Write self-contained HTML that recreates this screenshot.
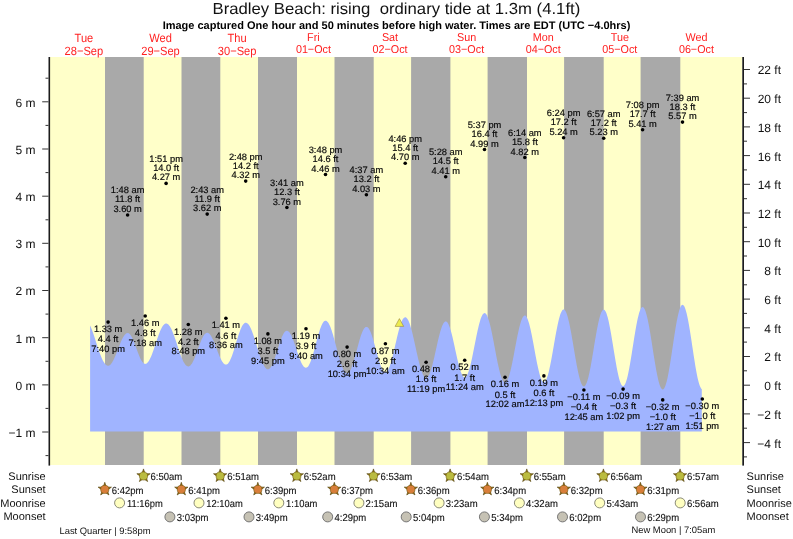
<!DOCTYPE html>
<html><head><meta charset="utf-8"><title>Bradley Beach tide times</title>
<style>html,body{margin:0;padding:0;background:#fff}svg{display:block}text{text-rendering:geometricPrecision}</style></head>
<body>
<svg width="793" height="539" viewBox="0 0 793 539" font-family="'Liberation Sans', Arial, Helvetica, sans-serif">
<rect width="793" height="539" fill="#fff"/>
<rect x="50" y="57" width="692" height="408" fill="#ffffc9"/>
<rect x="105.0" y="57" width="38.7" height="408" fill="#a9a9a9"/>
<rect x="181.5" y="57" width="38.8" height="408" fill="#a9a9a9"/>
<rect x="258.0" y="57" width="39.0" height="408" fill="#a9a9a9"/>
<rect x="334.5" y="57" width="39.2" height="408" fill="#a9a9a9"/>
<rect x="411.1" y="57" width="39.3" height="408" fill="#a9a9a9"/>
<rect x="487.6" y="57" width="39.4" height="408" fill="#a9a9a9"/>
<rect x="564.1" y="57" width="39.6" height="408" fill="#a9a9a9"/>
<rect x="640.6" y="57" width="39.7" height="408" fill="#a9a9a9"/>
<path d="M90.1,431.4L90.1,325.4L90.6,326.6L91.1,327.8L91.6,329.0L92.1,330.3L92.6,331.7L93.1,333.1L93.6,334.6L94.1,336.1L94.6,337.6L95.1,339.1L95.6,340.7L96.1,342.2L96.6,343.8L97.1,345.3L97.6,346.8L98.1,348.3L98.6,349.8L99.1,351.2L99.6,352.7L100.1,354.0L100.6,355.3L101.1,356.6L101.6,357.8L102.1,358.9L102.6,359.9L103.1,360.9L103.6,361.8L104.1,362.6L104.6,363.3L105.1,364.0L105.6,364.5L106.1,364.9L106.6,365.3L107.1,365.5L107.6,365.7L108.1,365.7L108.6,365.7L109.1,365.5L109.6,365.2L110.1,364.9L110.6,364.4L111.1,363.8L111.6,363.2L112.1,362.4L112.6,361.6L113.1,360.7L113.6,359.7L114.1,358.7L114.6,357.6L115.1,356.4L115.6,355.2L116.1,354.0L116.6,352.7L117.1,351.4L117.6,350.1L118.1,348.8L118.6,347.5L119.1,346.2L119.6,344.9L120.1,343.7L120.6,342.5L121.1,341.3L121.6,340.2L122.1,339.1L122.6,338.2L123.1,337.2L123.6,336.4L124.1,335.7L124.6,335.0L125.1,334.4L125.6,334.0L126.1,333.6L126.6,333.3L127.1,333.2L127.6,333.1L128.1,333.1L128.6,333.3L129.1,333.6L129.6,334.0L130.1,334.6L130.6,335.2L131.1,335.9L131.6,336.8L132.1,337.7L132.6,338.8L133.1,339.9L133.6,341.0L134.1,342.3L134.6,343.5L135.1,344.9L135.6,346.2L136.1,347.6L136.6,349.0L137.1,350.3L137.6,351.7L138.1,353.0L138.6,354.3L139.1,355.6L139.6,356.8L140.1,357.9L140.6,358.9L141.1,359.9L141.6,360.8L142.1,361.6L142.6,362.2L143.1,362.8L143.6,363.2L144.1,363.6L144.6,363.8L145.1,363.9L145.6,363.8L146.1,363.7L146.6,363.4L147.1,363.0L147.6,362.6L148.1,362.0L148.6,361.3L149.1,360.5L149.6,359.6L150.1,358.6L150.6,357.6L151.1,356.4L151.6,355.2L152.1,353.9L152.6,352.6L153.1,351.2L153.6,349.8L154.1,348.3L154.6,346.8L155.1,345.3L155.6,343.8L156.1,342.3L156.6,340.8L157.1,339.3L157.6,337.8L158.1,336.4L158.6,335.0L159.1,333.7L159.6,332.4L160.1,331.1L160.6,330.0L161.1,328.9L161.6,327.9L162.1,327.0L162.6,326.2L163.1,325.5L163.6,324.9L164.1,324.4L164.6,324.0L165.1,323.7L165.6,323.5L166.1,323.5L166.6,323.5L167.1,323.7L167.6,323.9L168.1,324.3L168.6,324.8L169.1,325.4L169.6,326.0L170.1,326.8L170.6,327.7L171.1,328.6L171.6,329.6L172.1,330.8L172.6,331.9L173.1,333.2L173.6,334.5L174.1,335.8L174.6,337.2L175.1,338.7L175.6,340.1L176.1,341.6L176.6,343.1L177.1,344.7L177.6,346.2L178.1,347.7L178.6,349.2L179.1,350.7L179.6,352.1L180.1,353.5L180.6,354.9L181.1,356.2L181.6,357.5L182.1,358.7L182.6,359.8L183.1,360.9L183.6,361.9L184.1,362.8L184.6,363.6L185.1,364.3L185.6,364.9L186.1,365.4L186.6,365.8L187.1,366.1L187.6,366.3L188.1,366.4L188.6,366.4L189.1,366.3L189.6,366.0L190.1,365.7L190.6,365.2L191.1,364.6L191.6,364.0L192.1,363.2L192.6,362.3L193.1,361.3L193.6,360.3L194.1,359.2L194.6,358.0L195.1,356.7L195.6,355.5L196.1,354.1L196.6,352.8L197.1,351.4L197.6,350.0L198.1,348.6L198.6,347.2L199.1,345.8L199.6,344.5L200.1,343.2L200.6,341.9L201.1,340.7L201.6,339.5L202.1,338.4L202.6,337.4L203.1,336.5L203.6,335.7L204.1,335.0L204.6,334.3L205.1,333.8L205.6,333.4L206.1,333.1L206.6,332.9L207.1,332.8L207.6,332.8L208.1,333.0L208.6,333.3L209.1,333.6L209.6,334.1L210.1,334.7L210.6,335.3L211.1,336.1L211.6,337.0L212.1,337.9L212.6,338.9L213.1,340.0L213.6,341.1L214.1,342.3L214.6,343.6L215.1,344.8L215.6,346.2L216.1,347.5L216.6,348.8L217.1,350.1L217.6,351.4L218.1,352.7L218.6,354.0L219.1,355.2L219.6,356.4L220.1,357.6L220.6,358.6L221.1,359.6L221.6,360.6L222.1,361.4L222.6,362.1L223.1,362.8L223.6,363.4L224.1,363.8L224.6,364.2L225.1,364.4L225.6,364.6L226.1,364.6L226.6,364.5L227.1,364.2L227.6,363.9L228.1,363.4L228.6,362.8L229.1,362.0L229.6,361.2L230.1,360.2L230.6,359.1L231.1,358.0L231.6,356.7L232.1,355.4L232.6,354.0L233.1,352.5L233.6,350.9L234.1,349.4L234.6,347.8L235.1,346.1L235.6,344.5L236.1,342.8L236.6,341.1L237.1,339.5L237.6,337.9L238.1,336.3L238.6,334.8L239.1,333.3L239.6,331.9L240.1,330.6L240.6,329.3L241.1,328.2L241.6,327.1L242.1,326.1L242.6,325.3L243.1,324.5L243.6,323.9L244.1,323.4L244.6,323.1L245.1,322.8L245.6,322.7L246.1,322.8L246.6,322.9L247.1,323.2L247.6,323.5L248.1,324.0L248.6,324.6L249.1,325.3L249.6,326.1L250.1,327.0L250.6,328.0L251.1,329.1L251.6,330.3L252.1,331.6L252.6,332.9L253.1,334.3L253.6,335.8L254.1,337.3L254.6,338.8L255.1,340.4L255.6,342.0L256.1,343.6L256.6,345.3L257.1,346.9L257.6,348.6L258.1,350.2L258.6,351.8L259.1,353.4L259.6,354.9L260.1,356.4L260.6,357.9L261.1,359.3L261.6,360.6L262.1,361.9L262.6,363.0L263.1,364.1L263.6,365.1L264.1,366.0L264.6,366.8L265.1,367.5L265.6,368.1L266.1,368.6L266.6,368.9L267.1,369.2L267.6,369.3L268.1,369.3L268.6,369.2L269.1,369.0L269.6,368.6L270.1,368.1L270.6,367.4L271.1,366.7L271.6,365.8L272.1,364.9L272.6,363.8L273.1,362.6L273.6,361.4L274.1,360.0L274.6,358.7L275.1,357.2L275.6,355.7L276.1,354.1L276.6,352.6L277.1,351.0L277.6,349.4L278.1,347.8L278.6,346.2L279.1,344.7L279.6,343.1L280.1,341.7L280.6,340.3L281.1,338.9L281.6,337.7L282.1,336.5L282.6,335.4L283.1,334.4L283.6,333.5L284.1,332.8L284.6,332.1L285.1,331.6L285.6,331.2L286.1,330.9L286.6,330.8L287.1,330.8L287.6,330.9L288.1,331.2L288.6,331.5L289.1,332.0L289.6,332.6L290.1,333.4L290.6,334.2L291.1,335.1L291.6,336.1L292.1,337.2L292.6,338.4L293.1,339.7L293.6,341.0L294.1,342.4L294.6,343.9L295.1,345.3L295.6,346.8L296.1,348.3L296.6,349.9L297.1,351.4L297.6,352.9L298.1,354.4L298.6,355.8L299.1,357.2L299.6,358.5L300.1,359.8L300.6,361.0L301.1,362.2L301.6,363.2L302.1,364.2L302.6,365.0L303.1,365.7L303.6,366.4L304.1,366.9L304.6,367.3L305.1,367.6L305.6,367.7L306.1,367.7L306.6,367.6L307.1,367.3L307.6,366.9L308.1,366.4L308.6,365.7L309.1,364.8L309.6,363.8L310.1,362.7L310.6,361.5L311.1,360.2L311.6,358.7L312.1,357.2L312.6,355.6L313.1,353.9L313.6,352.2L314.1,350.4L314.6,348.5L315.1,346.6L315.6,344.8L316.1,342.9L316.6,341.0L317.1,339.1L317.6,337.3L318.1,335.5L318.6,333.8L319.1,332.2L319.6,330.6L320.1,329.1L320.6,327.7L321.1,326.4L321.6,325.2L322.1,324.2L322.6,323.3L323.1,322.5L323.6,321.8L324.1,321.3L324.6,321.0L325.1,320.8L325.6,320.7L326.1,320.8L326.6,321.0L327.1,321.4L327.6,321.9L328.1,322.5L328.6,323.3L329.1,324.2L329.6,325.2L330.1,326.3L330.6,327.6L331.1,328.9L331.6,330.3L332.1,331.9L332.6,333.5L333.1,335.1L333.6,336.9L334.1,338.7L334.6,340.5L335.1,342.4L335.6,344.3L336.1,346.2L336.6,348.1L337.1,350.0L337.6,351.9L338.1,353.7L338.6,355.6L339.1,357.4L339.6,359.1L340.1,360.8L340.6,362.4L341.1,363.9L341.6,365.3L342.1,366.6L342.6,367.9L343.1,369.0L343.6,370.0L344.1,370.8L344.6,371.6L345.1,372.2L345.6,372.7L346.1,373.1L346.6,373.3L347.1,373.3L347.6,373.3L348.1,373.1L348.6,372.7L349.1,372.2L349.6,371.5L350.1,370.7L350.6,369.7L351.1,368.7L351.6,367.5L352.1,366.1L352.6,364.7L353.1,363.2L353.6,361.6L354.1,359.9L354.6,358.2L355.1,356.4L355.6,354.6L356.1,352.7L356.6,350.8L357.1,348.9L357.6,347.0L358.1,345.2L358.6,343.4L359.1,341.6L359.6,339.8L360.1,338.2L360.6,336.6L361.1,335.1L361.6,333.7L362.1,332.4L362.6,331.3L363.1,330.2L363.6,329.3L364.1,328.6L364.6,327.9L365.1,327.5L365.6,327.1L366.1,326.9L366.6,326.9L367.1,327.0L367.6,327.3L368.1,327.8L368.6,328.3L369.1,329.1L369.6,330.0L370.1,331.0L370.6,332.1L371.1,333.3L371.6,334.7L372.1,336.2L372.6,337.7L373.1,339.4L373.6,341.1L374.1,342.9L374.6,344.7L375.1,346.5L375.6,348.4L376.1,350.3L376.6,352.1L377.1,354.0L377.6,355.8L378.1,357.6L378.6,359.3L379.1,361.0L379.6,362.6L380.1,364.1L380.6,365.5L381.1,366.8L381.6,367.9L382.1,369.0L382.6,369.9L383.1,370.7L383.6,371.3L384.1,371.8L384.6,372.1L385.1,372.3L385.6,372.3L386.1,372.2L386.6,371.9L387.1,371.4L387.6,370.7L388.1,369.9L388.6,368.9L389.1,367.8L389.6,366.5L390.1,365.1L390.6,363.6L391.1,361.9L391.6,360.1L392.1,358.3L392.6,356.3L393.1,354.3L393.6,352.2L394.1,350.1L394.6,347.9L395.1,345.8L395.6,343.6L396.1,341.4L396.6,339.2L397.1,337.1L397.6,335.1L398.1,333.0L398.6,331.1L399.1,329.3L399.6,327.5L400.1,325.9L400.6,324.3L401.1,322.9L401.6,321.7L402.1,320.6L402.6,319.6L403.1,318.8L403.6,318.2L404.1,317.7L404.6,317.4L405.1,317.3L405.6,317.3L406.1,317.5L406.6,317.9L407.1,318.5L407.6,319.2L408.1,320.1L408.6,321.1L409.1,322.3L409.6,323.6L410.1,325.1L410.6,326.7L411.1,328.4L411.6,330.2L412.1,332.1L412.6,334.1L413.1,336.2L413.6,338.3L414.1,340.5L414.6,342.8L415.1,345.0L415.6,347.3L416.1,349.6L416.6,351.9L417.1,354.1L417.6,356.3L418.1,358.5L418.6,360.6L419.1,362.6L419.6,364.5L420.1,366.4L420.6,368.1L421.1,369.7L421.6,371.2L422.1,372.6L422.6,373.8L423.1,374.9L423.6,375.8L424.1,376.6L424.6,377.2L425.1,377.6L425.6,377.9L426.1,377.9L426.6,377.9L427.1,377.6L427.6,377.2L428.1,376.5L428.6,375.8L429.1,374.8L429.6,373.7L430.1,372.4L430.6,371.0L431.1,369.4L431.6,367.8L432.1,366.0L432.6,364.1L433.1,362.1L433.6,360.0L434.1,357.9L434.6,355.7L435.1,353.5L435.6,351.2L436.1,348.9L436.6,346.7L437.1,344.5L437.6,342.2L438.1,340.1L438.6,338.0L439.1,336.0L439.6,334.1L440.1,332.2L440.6,330.5L441.1,328.9L441.6,327.4L442.1,326.1L442.6,325.0L443.1,323.9L443.6,323.1L444.1,322.4L444.6,321.9L445.1,321.6L445.6,321.5L446.1,321.5L446.6,321.7L447.1,322.1L447.6,322.8L448.1,323.5L448.6,324.5L449.1,325.7L449.6,327.0L450.1,328.4L450.6,330.0L451.1,331.8L451.6,333.6L452.1,335.6L452.6,337.6L453.1,339.8L453.6,342.0L454.1,344.3L454.6,346.6L455.1,348.9L455.6,351.2L456.1,353.5L456.6,355.8L457.1,358.0L457.6,360.2L458.1,362.3L458.6,364.3L459.1,366.2L459.6,368.0L460.1,369.7L460.6,371.2L461.1,372.6L461.6,373.8L462.1,374.8L462.6,375.7L463.1,376.4L463.6,376.9L464.1,377.2L464.6,377.4L465.1,377.3L465.6,377.0L466.1,376.6L466.6,375.9L467.1,375.1L467.6,374.0L468.1,372.8L468.6,371.4L469.1,369.8L469.6,368.1L470.1,366.3L470.6,364.3L471.1,362.2L471.6,360.0L472.1,357.7L472.6,355.3L473.1,352.8L473.6,350.3L474.1,347.8L474.6,345.3L475.1,342.7L475.6,340.2L476.1,337.7L476.6,335.3L477.1,332.9L477.6,330.6L478.1,328.4L478.6,326.2L479.1,324.3L479.6,322.4L480.1,320.7L480.6,319.1L481.1,317.7L481.6,316.5L482.1,315.4L482.6,314.6L483.1,313.9L483.6,313.5L484.1,313.2L484.6,313.1L485.1,313.2L485.6,313.6L486.1,314.1L486.6,314.8L487.1,315.8L487.6,316.9L488.1,318.2L488.6,319.7L489.1,321.3L489.6,323.1L490.1,325.0L490.6,327.1L491.1,329.3L491.6,331.6L492.1,334.0L492.6,336.5L493.1,339.0L493.6,341.6L494.1,344.3L494.6,346.9L495.1,349.6L495.6,352.3L496.1,354.9L496.6,357.5L497.1,360.0L497.6,362.4L498.1,364.8L498.6,367.1L499.1,369.2L499.6,371.3L500.1,373.2L500.6,374.9L501.1,376.5L501.6,377.9L502.1,379.2L502.6,380.2L503.1,381.1L503.6,381.7L504.1,382.2L504.6,382.5L505.1,382.5L505.6,382.4L506.1,382.0L506.6,381.5L507.1,380.7L507.6,379.7L508.1,378.6L508.6,377.2L509.1,375.7L509.6,374.0L510.1,372.2L510.6,370.2L511.1,368.1L511.6,365.8L512.1,363.5L512.6,361.0L513.1,358.5L513.6,355.9L514.1,353.3L514.6,350.6L515.1,348.0L515.6,345.3L516.1,342.7L516.6,340.1L517.1,337.6L517.6,335.1L518.1,332.8L518.6,330.5L519.1,328.3L519.6,326.3L520.1,324.4L520.6,322.7L521.1,321.1L521.6,319.8L522.1,318.6L522.6,317.6L523.1,316.8L523.6,316.2L524.1,315.8L524.6,315.6L525.1,315.6L525.6,315.8L526.1,316.3L526.6,317.0L527.1,317.9L527.6,319.0L528.1,320.4L528.6,321.9L529.1,323.6L529.6,325.4L530.1,327.4L530.6,329.6L531.1,331.9L531.6,334.3L532.1,336.8L532.6,339.4L533.1,342.1L533.6,344.8L534.1,347.5L534.6,350.2L535.1,353.0L535.6,355.7L536.1,358.3L536.6,360.9L537.1,363.4L537.6,365.8L538.1,368.1L538.6,370.3L539.1,372.3L539.6,374.2L540.1,375.9L540.6,377.4L541.1,378.7L541.6,379.8L542.1,380.7L542.6,381.4L543.1,381.8L543.6,382.1L544.1,382.1L544.6,381.9L545.1,381.4L545.6,380.8L546.1,379.9L546.6,378.8L547.1,377.5L547.6,376.0L548.1,374.3L548.6,372.4L549.1,370.3L549.6,368.1L550.1,365.8L550.6,363.3L551.1,360.7L551.6,358.0L552.1,355.3L552.6,352.5L553.1,349.6L553.6,346.7L554.1,343.8L554.6,341.0L555.1,338.1L555.6,335.3L556.1,332.6L556.6,330.0L557.1,327.4L557.6,325.0L558.1,322.7L558.6,320.5L559.1,318.5L559.6,316.7L560.1,315.1L560.6,313.6L561.1,312.4L561.6,311.4L562.1,310.6L562.6,310.0L563.1,309.6L563.6,309.5L564.1,309.6L564.6,309.9L565.1,310.5L565.6,311.3L566.1,312.3L566.6,313.5L567.1,315.0L567.6,316.6L568.1,318.4L568.6,320.4L569.1,322.5L569.6,324.9L570.1,327.3L570.6,329.9L571.1,332.6L571.6,335.3L572.1,338.2L572.6,341.1L573.1,344.0L573.6,347.0L574.1,350.0L574.6,353.0L575.1,355.9L575.6,358.8L576.1,361.6L576.6,364.4L577.1,367.0L577.6,369.5L578.1,371.9L578.6,374.2L579.1,376.3L579.6,378.2L580.1,380.0L580.6,381.5L581.1,382.9L581.6,384.0L582.1,385.0L582.6,385.7L583.1,386.1L583.6,386.4L584.1,386.4L584.6,386.2L585.1,385.7L585.6,385.0L586.1,384.1L586.6,382.9L587.1,381.6L587.6,380.0L588.1,378.2L588.6,376.2L589.1,374.0L589.6,371.7L590.1,369.3L590.6,366.7L591.1,363.9L591.6,361.1L592.1,358.2L592.6,355.2L593.1,352.2L593.6,349.2L594.1,346.1L594.6,343.1L595.1,340.1L595.6,337.2L596.1,334.3L596.6,331.5L597.1,328.8L597.6,326.2L598.1,323.8L598.6,321.5L599.1,319.4L599.6,317.4L600.1,315.7L600.6,314.2L601.1,312.8L601.6,311.7L602.1,310.9L602.6,310.2L603.1,309.8L603.6,309.7L604.1,309.7L604.6,310.1L605.1,310.7L605.6,311.5L606.1,312.5L606.6,313.8L607.1,315.4L607.6,317.1L608.1,319.0L608.6,321.1L609.1,323.4L609.6,325.9L610.1,328.5L610.6,331.2L611.1,334.1L611.6,337.0L612.1,340.0L612.6,343.0L613.1,346.1L613.6,349.2L614.1,352.3L614.6,355.3L615.1,358.3L615.6,361.3L616.1,364.1L616.6,366.9L617.1,369.5L617.6,372.0L618.1,374.3L618.6,376.5L619.1,378.4L619.6,380.2L620.1,381.7L620.6,383.1L621.1,384.2L621.6,385.0L622.1,385.6L622.6,386.0L623.1,386.1L623.6,386.0L624.1,385.6L624.6,385.0L625.1,384.1L625.6,383.0L626.1,381.6L626.6,380.0L627.1,378.2L627.6,376.2L628.1,373.9L628.6,371.6L629.1,369.0L629.6,366.3L630.1,363.5L630.6,360.5L631.1,357.5L631.6,354.4L632.1,351.3L632.6,348.1L633.1,344.9L633.6,341.7L634.1,338.6L634.6,335.5L635.1,332.5L635.6,329.5L636.1,326.7L636.6,324.0L637.1,321.5L637.6,319.1L638.1,316.9L638.6,314.9L639.1,313.1L639.6,311.5L640.1,310.2L640.6,309.0L641.1,308.2L641.6,307.5L642.1,307.2L642.6,307.1L643.1,307.2L643.6,307.6L644.1,308.2L644.6,309.1L645.1,310.2L645.6,311.6L646.1,313.2L646.6,314.9L647.1,316.9L647.6,319.1L648.1,321.5L648.6,324.0L649.1,326.6L649.6,329.4L650.1,332.3L650.6,335.3L651.1,338.4L651.6,341.6L652.1,344.7L652.6,348.0L653.1,351.2L653.6,354.4L654.1,357.5L654.6,360.6L655.1,363.6L655.6,366.5L656.1,369.4L656.6,372.1L657.1,374.6L657.6,377.0L658.1,379.2L658.6,381.2L659.1,383.0L659.6,384.7L660.1,386.0L660.6,387.2L661.1,388.1L661.6,388.8L662.1,389.3L662.6,389.4L663.1,389.4L663.6,389.0L664.1,388.5L664.6,387.6L665.1,386.5L665.6,385.1L666.1,383.5L666.6,381.7L667.1,379.7L667.6,377.4L668.1,375.0L668.6,372.3L669.1,369.6L669.6,366.7L670.1,363.6L670.6,360.5L671.1,357.2L671.6,353.9L672.1,350.6L672.6,347.3L673.1,343.9L673.6,340.6L674.1,337.3L674.6,334.0L675.1,330.9L675.6,327.8L676.1,324.9L676.6,322.1L677.1,319.5L677.6,317.0L678.1,314.8L678.6,312.7L679.1,310.8L679.6,309.2L680.1,307.8L680.6,306.7L681.1,305.8L681.6,305.2L682.1,304.9L682.6,304.8L683.1,304.9L683.6,305.4L684.1,306.1L684.6,307.1L685.1,308.3L685.6,309.7L686.1,311.4L686.6,313.3L687.1,315.5L687.6,317.8L688.1,320.3L688.6,323.0L689.1,325.8L689.6,328.8L690.1,331.8L690.6,335.0L691.1,338.2L691.6,341.6L692.1,344.9L692.6,348.2L693.1,351.6L693.6,354.9L694.1,358.1L694.6,361.3L695.1,364.4L695.6,367.4L696.1,370.3L696.6,373.0L697.1,375.6L697.6,377.9L698.1,380.1L698.6,382.1L699.1,383.8L699.6,385.3L700.1,386.6L700.6,387.6L701.1,388.4L701.6,388.9L701.8,389.0L701.8,431.4Z" fill="#a0b4ff"/>
<rect x="48.5" y="57" width="1.6" height="408.6" fill="#1c1c1c"/>
<rect x="742.3" y="57" width="1.7" height="408.6" fill="#1c1c1c"/>
<g stroke="#333" stroke-width="1">
<line x1="45.5" x2="48.5" y1="455.6" y2="455.6"/>
<line x1="42.2" x2="48.5" y1="432.0" y2="432.0"/>
<line x1="45.5" x2="48.5" y1="408.4" y2="408.4"/>
<line x1="42.2" x2="48.5" y1="384.9" y2="384.9"/>
<line x1="45.5" x2="48.5" y1="361.3" y2="361.3"/>
<line x1="42.2" x2="48.5" y1="337.7" y2="337.7"/>
<line x1="45.5" x2="48.5" y1="314.1" y2="314.1"/>
<line x1="42.2" x2="48.5" y1="290.5" y2="290.5"/>
<line x1="45.5" x2="48.5" y1="266.9" y2="266.9"/>
<line x1="42.2" x2="48.5" y1="243.3" y2="243.3"/>
<line x1="45.5" x2="48.5" y1="219.8" y2="219.8"/>
<line x1="42.2" x2="48.5" y1="196.2" y2="196.2"/>
<line x1="45.5" x2="48.5" y1="172.6" y2="172.6"/>
<line x1="42.2" x2="48.5" y1="149.0" y2="149.0"/>
<line x1="45.5" x2="48.5" y1="125.4" y2="125.4"/>
<line x1="42.2" x2="48.5" y1="101.8" y2="101.8"/>
<line x1="45.5" x2="48.5" y1="78.2" y2="78.2"/>
<line x1="744" x2="747" y1="456.9" y2="456.9"/>
<line x1="744" x2="750" y1="442.6" y2="442.6"/>
<line x1="744" x2="747" y1="428.2" y2="428.2"/>
<line x1="744" x2="750" y1="413.9" y2="413.9"/>
<line x1="744" x2="747" y1="399.6" y2="399.6"/>
<line x1="744" x2="750" y1="385.2" y2="385.2"/>
<line x1="744" x2="747" y1="370.8" y2="370.8"/>
<line x1="744" x2="750" y1="356.5" y2="356.5"/>
<line x1="744" x2="747" y1="342.1" y2="342.1"/>
<line x1="744" x2="750" y1="327.8" y2="327.8"/>
<line x1="744" x2="747" y1="313.4" y2="313.4"/>
<line x1="744" x2="750" y1="299.1" y2="299.1"/>
<line x1="744" x2="747" y1="284.8" y2="284.8"/>
<line x1="744" x2="750" y1="270.4" y2="270.4"/>
<line x1="744" x2="747" y1="256.0" y2="256.0"/>
<line x1="744" x2="750" y1="241.7" y2="241.7"/>
<line x1="744" x2="747" y1="227.3" y2="227.3"/>
<line x1="744" x2="750" y1="213.0" y2="213.0"/>
<line x1="744" x2="747" y1="198.7" y2="198.7"/>
<line x1="744" x2="750" y1="184.3" y2="184.3"/>
<line x1="744" x2="747" y1="169.9" y2="169.9"/>
<line x1="744" x2="750" y1="155.6" y2="155.6"/>
<line x1="744" x2="747" y1="141.2" y2="141.2"/>
<line x1="744" x2="750" y1="126.9" y2="126.9"/>
<line x1="744" x2="747" y1="112.6" y2="112.6"/>
<line x1="744" x2="750" y1="98.2" y2="98.2"/>
<line x1="744" x2="747" y1="83.9" y2="83.9"/>
<line x1="744" x2="750" y1="69.5" y2="69.5"/>
</g>
<g font-size="12" fill="#111">
<text x="35.6" y="436.9" text-anchor="end">−1 m</text>
<text x="35.6" y="389.8" text-anchor="end">0 m</text>
<text x="35.6" y="342.6" text-anchor="end">1 m</text>
<text x="35.6" y="295.4" text-anchor="end">2 m</text>
<text x="35.6" y="248.2" text-anchor="end">3 m</text>
<text x="35.6" y="201.1" text-anchor="end">4 m</text>
<text x="35.6" y="153.9" text-anchor="end">5 m</text>
<text x="35.6" y="106.7" text-anchor="end">6 m</text>
<text x="781" y="447.5" text-anchor="end">−4 ft</text>
<text x="781" y="418.8" text-anchor="end">−2 ft</text>
<text x="781" y="390.1" text-anchor="end">0 ft</text>
<text x="781" y="361.4" text-anchor="end">2 ft</text>
<text x="781" y="332.7" text-anchor="end">4 ft</text>
<text x="781" y="304.0" text-anchor="end">6 ft</text>
<text x="781" y="275.3" text-anchor="end">8 ft</text>
<text x="781" y="246.6" text-anchor="end">10 ft</text>
<text x="781" y="217.9" text-anchor="end">12 ft</text>
<text x="781" y="189.2" text-anchor="end">14 ft</text>
<text x="781" y="160.5" text-anchor="end">16 ft</text>
<text x="781" y="131.8" text-anchor="end">18 ft</text>
<text x="781" y="103.1" text-anchor="end">20 ft</text>
<text x="781" y="74.4" text-anchor="end">22 ft</text>
</g>
<text transform="translate(396.4,14.1) scale(1.044,1)" font-size="16" text-anchor="middle" fill="#111" xml:space="preserve">Bradley Beach: rising  ordinary tide at 1.3m (4.1ft)</text>
<text x="396.5" y="28.7" font-size="11" font-weight="bold" text-anchor="middle" fill="#000">Image captured One hour and 50 minutes before high water. Times are EDT (UTC −4.0hrs)</text>
<g fill="#ff2020" text-anchor="middle">
<text transform="translate(83.9,41.5) scale(0.925,1)" font-size="12.0" text-anchor="middle">Tue</text><text transform="translate(83.9,54.5) scale(0.925,1)" font-size="12.0" text-anchor="middle">28−Sep</text>
<text transform="translate(160.5,41.5) scale(0.925,1)" font-size="12.0" text-anchor="middle">Wed</text><text transform="translate(160.5,54.5) scale(0.925,1)" font-size="12.0" text-anchor="middle">29−Sep</text>
<text transform="translate(237.1,41.5) scale(0.925,1)" font-size="12.0" text-anchor="middle">Thu</text><text transform="translate(237.1,54.5) scale(0.925,1)" font-size="12.0" text-anchor="middle">30−Sep</text>
<text transform="translate(313.4,40.6) scale(0.946,1)" font-size="11.4" text-anchor="middle">Fri</text><text transform="translate(313.4,52.8) scale(0.946,1)" font-size="11.4" text-anchor="middle">01−Oct</text>
<text transform="translate(390.0,40.6) scale(0.946,1)" font-size="11.4" text-anchor="middle">Sat</text><text transform="translate(390.0,52.8) scale(0.946,1)" font-size="11.4" text-anchor="middle">02−Oct</text>
<text transform="translate(466.6,40.6) scale(0.946,1)" font-size="11.4" text-anchor="middle">Sun</text><text transform="translate(466.6,52.8) scale(0.946,1)" font-size="11.4" text-anchor="middle">03−Oct</text>
<text transform="translate(543.2,40.6) scale(0.946,1)" font-size="11.4" text-anchor="middle">Mon</text><text transform="translate(543.2,52.8) scale(0.946,1)" font-size="11.4" text-anchor="middle">04−Oct</text>
<text transform="translate(619.8,40.6) scale(0.946,1)" font-size="11.4" text-anchor="middle">Tue</text><text transform="translate(619.8,52.8) scale(0.946,1)" font-size="11.4" text-anchor="middle">05−Oct</text>
<text transform="translate(696.4,40.6) scale(0.946,1)" font-size="11.4" text-anchor="middle">Wed</text><text transform="translate(696.4,52.8) scale(0.946,1)" font-size="11.4" text-anchor="middle">06−Oct</text>
</g>
<g font-size="9.3" fill="#0a0a0a" stroke="#0a0a0a" stroke-width="0.18" text-anchor="middle">
<circle cx="108.1" cy="322.1" r="1.8" fill="#000" stroke="none"/>
<text x="108.1" y="332.1">1.33 m</text><text x="108.1" y="342.3">4.4 ft</text><text x="108.1" y="351.9">7:40 pm</text>
<circle cx="127.6" cy="215.0" r="1.8" fill="#000" stroke="none"/>
<text x="127.6" y="193.4">1:48 am</text><text x="127.6" y="202.4">11.8 ft</text><text x="127.6" y="212.0">3.60 m</text>
<circle cx="145.2" cy="316.0" r="1.8" fill="#000" stroke="none"/>
<text x="145.2" y="326.0">1.46 m</text><text x="145.2" y="336.2">4.8 ft</text><text x="145.2" y="345.8">7:18 am</text>
<circle cx="166.1" cy="183.4" r="1.8" fill="#000" stroke="none"/>
<text x="166.1" y="161.8">1:51 pm</text><text x="166.1" y="170.8">14.0 ft</text><text x="166.1" y="180.4">4.27 m</text>
<circle cx="188.3" cy="324.5" r="1.8" fill="#000" stroke="none"/>
<text x="188.3" y="334.5">1.28 m</text><text x="188.3" y="344.7">4.2 ft</text><text x="188.3" y="354.3">8:48 pm</text>
<circle cx="207.2" cy="214.1" r="1.8" fill="#000" stroke="none"/>
<text x="207.2" y="192.5">2:43 am</text><text x="207.2" y="201.5">11.9 ft</text><text x="207.2" y="211.1">3.62 m</text>
<circle cx="225.9" cy="318.3" r="1.8" fill="#000" stroke="none"/>
<text x="225.9" y="328.3">1.41 m</text><text x="225.9" y="338.5">4.6 ft</text><text x="225.9" y="348.1">8:36 am</text>
<circle cx="245.7" cy="181.1" r="1.8" fill="#000" stroke="none"/>
<text x="245.7" y="159.5">2:48 pm</text><text x="245.7" y="168.5">14.2 ft</text><text x="245.7" y="178.1">4.32 m</text>
<circle cx="267.9" cy="333.9" r="1.8" fill="#000" stroke="none"/>
<text x="267.9" y="343.9">1.08 m</text><text x="267.9" y="354.1">3.5 ft</text><text x="267.9" y="363.7">9:45 pm</text>
<circle cx="286.9" cy="207.5" r="1.8" fill="#000" stroke="none"/>
<text x="286.9" y="185.9">3:41 am</text><text x="286.9" y="194.9">12.3 ft</text><text x="286.9" y="204.5">3.76 m</text>
<circle cx="306.0" cy="328.7" r="1.8" fill="#000" stroke="none"/>
<text x="306.0" y="338.7">1.19 m</text><text x="306.0" y="348.9">3.9 ft</text><text x="306.0" y="358.5">9:40 am</text>
<circle cx="325.5" cy="174.5" r="1.8" fill="#000" stroke="none"/>
<text x="325.5" y="152.9">3:48 pm</text><text x="325.5" y="161.9">14.6 ft</text><text x="325.5" y="171.5">4.46 m</text>
<circle cx="347.1" cy="347.1" r="1.8" fill="#000" stroke="none"/>
<text x="347.1" y="357.1">0.80 m</text><text x="347.1" y="367.3">2.6 ft</text><text x="347.1" y="376.9">10:34 pm</text>
<circle cx="366.4" cy="194.8" r="1.8" fill="#000" stroke="none"/>
<text x="366.4" y="173.2">4:37 am</text><text x="366.4" y="182.2">13.2 ft</text><text x="366.4" y="191.8">4.03 m</text>
<circle cx="385.4" cy="343.8" r="1.8" fill="#000" stroke="none"/>
<text x="385.4" y="353.8">0.87 m</text><text x="385.4" y="364.0">2.9 ft</text><text x="385.4" y="373.6">10:34 am</text>
<circle cx="405.2" cy="163.2" r="1.8" fill="#000" stroke="none"/>
<text x="405.2" y="141.6">4:46 pm</text><text x="405.2" y="150.6">15.4 ft</text><text x="405.2" y="160.2">4.70 m</text>
<circle cx="426.1" cy="362.2" r="1.8" fill="#000" stroke="none"/>
<text x="426.1" y="372.2">0.48 m</text><text x="426.1" y="382.4">1.6 ft</text><text x="426.1" y="392.0">11:19 pm</text>
<circle cx="445.7" cy="176.8" r="1.8" fill="#000" stroke="none"/>
<text x="445.7" y="155.2">5:28 am</text><text x="445.7" y="164.2">14.5 ft</text><text x="445.7" y="173.8">4.41 m</text>
<circle cx="464.7" cy="360.3" r="1.8" fill="#000" stroke="none"/>
<text x="464.7" y="370.3">0.52 m</text><text x="464.7" y="380.5">1.7 ft</text><text x="464.7" y="390.1">11:24 am</text>
<circle cx="484.5" cy="149.5" r="1.8" fill="#000" stroke="none"/>
<text x="484.5" y="127.9">5:37 pm</text><text x="484.5" y="136.9">16.4 ft</text><text x="484.5" y="146.5">4.99 m</text>
<circle cx="505.0" cy="377.3" r="1.8" fill="#000" stroke="none"/>
<text x="505.0" y="387.3">0.16 m</text><text x="505.0" y="397.5">0.5 ft</text><text x="505.0" y="407.1">12:02 am</text>
<circle cx="524.8" cy="157.5" r="1.8" fill="#000" stroke="none"/>
<text x="524.8" y="135.9">6:14 am</text><text x="524.8" y="144.9">15.8 ft</text><text x="524.8" y="154.5">4.82 m</text>
<circle cx="543.9" cy="375.9" r="1.8" fill="#000" stroke="none"/>
<text x="543.9" y="385.9">0.19 m</text><text x="543.9" y="396.1">0.6 ft</text><text x="543.9" y="405.7">12:13 pm</text>
<circle cx="563.6" cy="137.7" r="1.8" fill="#000" stroke="none"/>
<text x="563.6" y="116.1">6:24 pm</text><text x="563.6" y="125.1">17.2 ft</text><text x="563.6" y="134.7">5.24 m</text>
<circle cx="583.9" cy="390.0" r="1.8" fill="#000" stroke="none"/>
<text x="583.9" y="400.0">−0.11 m</text><text x="583.9" y="410.2">−0.4 ft</text><text x="583.9" y="419.8">12:45 am</text>
<circle cx="603.7" cy="138.2" r="1.8" fill="#000" stroke="none"/>
<text x="603.7" y="116.6">6:57 am</text><text x="603.7" y="125.6">17.2 ft</text><text x="603.7" y="135.2">5.23 m</text>
<circle cx="623.1" cy="389.1" r="1.8" fill="#000" stroke="none"/>
<text x="623.1" y="399.1">−0.09 m</text><text x="623.1" y="409.3">−0.3 ft</text><text x="623.1" y="418.9">1:02 pm</text>
<circle cx="642.6" cy="129.7" r="1.8" fill="#000" stroke="none"/>
<text x="642.6" y="108.1">7:08 pm</text><text x="642.6" y="117.1">17.7 ft</text><text x="642.6" y="126.7">5.41 m</text>
<circle cx="662.7" cy="399.9" r="1.8" fill="#000" stroke="none"/>
<text x="662.7" y="409.9">−0.32 m</text><text x="662.7" y="420.1">−1.0 ft</text><text x="662.7" y="429.7">1:27 am</text>
<circle cx="682.5" cy="122.1" r="1.8" fill="#000" stroke="none"/>
<text x="682.5" y="100.5">7:39 am</text><text x="682.5" y="109.5">18.3 ft</text><text x="682.5" y="119.1">5.57 m</text>
<circle cx="702.3" cy="399.0" r="1.8" fill="#000" stroke="none"/>
<text x="702.3" y="409.0">−0.30 m</text><text x="702.3" y="419.2">−1.0 ft</text><text x="702.3" y="428.8">1:51 pm</text>
</g>
<path d="M399.4,318.6L403.7,326.4L395.1,326.4Z" fill="#ecec50" stroke="#8a7030" stroke-width="0.5"/>
<g font-size="11" fill="#111">
<text x="45.6" y="480.0" text-anchor="end">Sunrise</text><text x="746.6" y="480.0">Sunrise</text>
<text x="45.6" y="493.4" text-anchor="end">Sunset</text><text x="746.6" y="493.4">Sunset</text>
<text x="45.6" y="506.9" text-anchor="end">Moonrise</text><text x="746.6" y="506.9">Moonrise</text>
<text x="45.6" y="520.4" text-anchor="end">Moonset</text><text x="746.6" y="520.4">Moonset</text>
</g>
<g font-size="9.55" fill="#111" stroke="#111" stroke-width="0.12">
<polygon points="143.51,468.90 145.10,473.72 150.17,473.74 146.08,476.73 147.62,481.56 143.51,478.60 139.40,481.56 140.94,476.73 136.85,473.74 141.92,473.72" fill="#9a7a14" stroke="#4e3e06" stroke-width="0.6"/><circle cx="143.51" cy="476.00" r="4.1" fill="#babb40" stroke="#6a5408" stroke-width="0.55"/>
<text transform="translate(150.5,479.6) scale(0.936,1)" font-size="10.2">6:50am</text>
<polygon points="104.78,482.30 106.37,487.12 111.44,487.14 107.35,490.13 108.90,494.96 104.78,492.00 100.67,494.96 102.22,490.13 98.13,487.14 103.20,487.12" fill="#a07014" stroke="#4e3e06" stroke-width="0.6"/><circle cx="104.78" cy="489.40" r="4.1" fill="#d87e3a" stroke="#6a5408" stroke-width="0.55"/>
<text transform="translate(111.7,493.6) scale(0.936,1)" font-size="10.2">6:42pm</text>
<polygon points="220.16,468.90 221.75,473.72 226.82,473.74 222.73,476.73 224.28,481.56 220.16,478.60 216.05,481.56 217.60,476.73 213.51,473.74 218.58,473.72" fill="#9a7a14" stroke="#4e3e06" stroke-width="0.6"/><circle cx="220.16" cy="476.00" r="4.1" fill="#babb40" stroke="#6a5408" stroke-width="0.55"/>
<text transform="translate(227.2,479.6) scale(0.936,1)" font-size="10.2">6:51am</text>
<polygon points="181.33,482.30 182.92,487.12 187.99,487.14 183.90,490.13 185.45,494.96 181.33,492.00 177.22,494.96 178.76,490.13 174.67,487.14 179.74,487.12" fill="#a07014" stroke="#4e3e06" stroke-width="0.6"/><circle cx="181.33" cy="489.40" r="4.1" fill="#d87e3a" stroke="#6a5408" stroke-width="0.55"/>
<text transform="translate(188.2,493.6) scale(0.936,1)" font-size="10.2">6:41pm</text>
<polygon points="296.82,468.90 298.40,473.72 303.47,473.74 299.38,476.73 300.93,481.56 296.82,478.60 292.70,481.56 294.25,476.73 290.16,473.74 295.23,473.72" fill="#9a7a14" stroke="#4e3e06" stroke-width="0.6"/><circle cx="296.82" cy="476.00" r="4.1" fill="#babb40" stroke="#6a5408" stroke-width="0.55"/>
<text transform="translate(303.8,479.6) scale(0.936,1)" font-size="10.2">6:52am</text>
<polygon points="257.82,482.30 259.41,487.12 264.48,487.14 260.39,490.13 261.94,494.96 257.82,492.00 253.71,494.96 255.26,490.13 251.17,487.14 256.24,487.12" fill="#a07014" stroke="#4e3e06" stroke-width="0.6"/><circle cx="257.82" cy="489.40" r="4.1" fill="#d87e3a" stroke="#6a5408" stroke-width="0.55"/>
<text transform="translate(264.7,493.6) scale(0.936,1)" font-size="10.2">6:39pm</text>
<polygon points="373.47,468.90 375.06,473.72 380.13,473.74 376.04,476.73 377.58,481.56 373.47,478.60 369.35,481.56 370.90,476.73 366.81,473.74 371.88,473.72" fill="#9a7a14" stroke="#4e3e06" stroke-width="0.6"/><circle cx="373.47" cy="476.00" r="4.1" fill="#babb40" stroke="#6a5408" stroke-width="0.55"/>
<text transform="translate(380.5,479.6) scale(0.936,1)" font-size="10.2">6:53am</text>
<polygon points="334.32,482.30 335.91,487.12 340.98,487.14 336.89,490.13 338.43,494.96 334.32,492.00 330.20,494.96 331.75,490.13 327.66,487.14 332.73,487.12" fill="#a07014" stroke="#4e3e06" stroke-width="0.6"/><circle cx="334.32" cy="489.40" r="4.1" fill="#d87e3a" stroke="#6a5408" stroke-width="0.55"/>
<text transform="translate(341.2,493.6) scale(0.936,1)" font-size="10.2">6:37pm</text>
<polygon points="450.12,468.90 451.71,473.72 456.78,473.74 452.69,476.73 454.24,481.56 450.12,478.60 446.01,481.56 447.55,476.73 443.47,473.74 448.54,473.72" fill="#9a7a14" stroke="#4e3e06" stroke-width="0.6"/><circle cx="450.12" cy="476.00" r="4.1" fill="#babb40" stroke="#6a5408" stroke-width="0.55"/>
<text transform="translate(457.1,479.6) scale(0.936,1)" font-size="10.2">6:54am</text>
<polygon points="410.87,482.30 412.45,487.12 417.52,487.14 413.43,490.13 414.98,494.96 410.87,492.00 406.75,494.96 408.30,490.13 404.21,487.14 409.28,487.12" fill="#a07014" stroke="#4e3e06" stroke-width="0.6"/><circle cx="410.87" cy="489.40" r="4.1" fill="#d87e3a" stroke="#6a5408" stroke-width="0.55"/>
<text transform="translate(417.8,493.6) scale(0.936,1)" font-size="10.2">6:36pm</text>
<polygon points="526.78,468.90 528.36,473.72 533.43,473.74 529.34,476.73 530.89,481.56 526.78,478.60 522.66,481.56 524.21,476.73 520.12,473.74 525.19,473.72" fill="#9a7a14" stroke="#4e3e06" stroke-width="0.6"/><circle cx="526.78" cy="476.00" r="4.1" fill="#babb40" stroke="#6a5408" stroke-width="0.55"/>
<text transform="translate(533.8,479.6) scale(0.936,1)" font-size="10.2">6:55am</text>
<polygon points="487.36,482.30 488.95,487.12 494.02,487.14 489.93,490.13 491.47,494.96 487.36,492.00 483.24,494.96 484.79,490.13 480.70,487.14 485.77,487.12" fill="#a07014" stroke="#4e3e06" stroke-width="0.6"/><circle cx="487.36" cy="489.40" r="4.1" fill="#d87e3a" stroke="#6a5408" stroke-width="0.55"/>
<text transform="translate(494.3,493.6) scale(0.936,1)" font-size="10.2">6:34pm</text>
<polygon points="603.43,468.90 605.02,473.72 610.09,473.74 606.00,476.73 607.54,481.56 603.43,478.60 599.31,481.56 600.86,476.73 596.77,473.74 601.84,473.72" fill="#9a7a14" stroke="#4e3e06" stroke-width="0.6"/><circle cx="603.43" cy="476.00" r="4.1" fill="#babb40" stroke="#6a5408" stroke-width="0.55"/>
<text transform="translate(610.4,479.6) scale(0.936,1)" font-size="10.2">6:56am</text>
<polygon points="563.85,482.30 565.44,487.12 570.51,487.14 566.42,490.13 567.97,494.96 563.85,492.00 559.74,494.96 561.28,490.13 557.19,487.14 562.27,487.12" fill="#a07014" stroke="#4e3e06" stroke-width="0.6"/><circle cx="563.85" cy="489.40" r="4.1" fill="#d87e3a" stroke="#6a5408" stroke-width="0.55"/>
<text transform="translate(570.8,493.6) scale(0.936,1)" font-size="10.2">6:32pm</text>
<polygon points="680.08,468.90 681.67,473.72 686.74,473.74 682.65,476.73 684.20,481.56 680.08,478.60 675.97,481.56 677.51,476.73 673.42,473.74 678.50,473.72" fill="#9a7a14" stroke="#4e3e06" stroke-width="0.6"/><circle cx="680.08" cy="476.00" r="4.1" fill="#babb40" stroke="#6a5408" stroke-width="0.55"/>
<text transform="translate(687.1,479.6) scale(0.936,1)" font-size="10.2">6:57am</text>
<polygon points="640.40,482.30 641.99,487.12 647.06,487.14 642.97,490.13 644.51,494.96 640.40,492.00 636.28,494.96 637.83,490.13 633.74,487.14 638.81,487.12" fill="#a07014" stroke="#4e3e06" stroke-width="0.6"/><circle cx="640.40" cy="489.40" r="4.1" fill="#d87e3a" stroke="#6a5408" stroke-width="0.55"/>
<text transform="translate(647.3,493.6) scale(0.936,1)" font-size="10.2">6:31pm</text>
<circle cx="119.6" cy="502.9" r="5.0" fill="#ffffc0" stroke="#8a8a78" stroke-width="1"/>
<text transform="translate(126.9,507.2) scale(0.922,1)" font-size="10.2">11:16pm</text>
<circle cx="199.0" cy="502.9" r="5.0" fill="#ffffc0" stroke="#8a8a78" stroke-width="1"/>
<text transform="translate(206.3,507.2) scale(0.922,1)" font-size="10.2">12:10am</text>
<circle cx="278.8" cy="502.9" r="5.0" fill="#ffffc0" stroke="#8a8a78" stroke-width="1"/>
<text transform="translate(286.1,507.2) scale(0.922,1)" font-size="10.2">1:10am</text>
<circle cx="358.9" cy="502.9" r="5.0" fill="#ffffc0" stroke="#8a8a78" stroke-width="1"/>
<text transform="translate(365.6,507.2) scale(0.936,1)" font-size="10.2">2:15am</text>
<circle cx="439.1" cy="502.9" r="5.0" fill="#ffffc0" stroke="#8a8a78" stroke-width="1"/>
<text transform="translate(445.8,507.2) scale(0.936,1)" font-size="10.2">3:23am</text>
<circle cx="519.4" cy="502.9" r="5.0" fill="#ffffc0" stroke="#8a8a78" stroke-width="1"/>
<text transform="translate(526.1,507.2) scale(0.936,1)" font-size="10.2">4:32am</text>
<circle cx="599.7" cy="502.9" r="5.0" fill="#ffffc0" stroke="#8a8a78" stroke-width="1"/>
<text transform="translate(606.4,507.2) scale(0.936,1)" font-size="10.2">5:43am</text>
<circle cx="680.2" cy="502.9" r="5.0" fill="#ffffc0" stroke="#8a8a78" stroke-width="1"/>
<text transform="translate(686.9,507.2) scale(0.936,1)" font-size="10.2">6:56am</text>
<circle cx="169.9" cy="516.9" r="5.0" fill="#c6c2b4" stroke="#777" stroke-width="1"/>
<text transform="translate(176.7,520.7) scale(0.936,1)" font-size="10.2">3:03pm</text>
<circle cx="249.0" cy="516.9" r="5.0" fill="#c6c2b4" stroke="#777" stroke-width="1"/>
<text transform="translate(255.8,520.7) scale(0.936,1)" font-size="10.2">3:49pm</text>
<circle cx="327.7" cy="516.9" r="5.0" fill="#c6c2b4" stroke="#777" stroke-width="1"/>
<text transform="translate(334.5,520.7) scale(0.936,1)" font-size="10.2">4:29pm</text>
<circle cx="406.2" cy="516.9" r="5.0" fill="#c6c2b4" stroke="#777" stroke-width="1"/>
<text transform="translate(413.0,520.7) scale(0.936,1)" font-size="10.2">5:04pm</text>
<circle cx="484.4" cy="516.9" r="5.0" fill="#c6c2b4" stroke="#777" stroke-width="1"/>
<text transform="translate(491.2,520.7) scale(0.936,1)" font-size="10.2">5:34pm</text>
<circle cx="562.5" cy="516.9" r="5.0" fill="#c6c2b4" stroke="#777" stroke-width="1"/>
<text transform="translate(569.3,520.7) scale(0.936,1)" font-size="10.2">6:02pm</text>
<circle cx="640.5" cy="516.9" r="5.0" fill="#c6c2b4" stroke="#777" stroke-width="1"/>
<text transform="translate(647.3,520.7) scale(0.936,1)" font-size="10.2">6:29pm</text>
</g>
<g font-size="9.4" fill="#111"><text x="59.5" y="533.5">Last Quarter | 9:58pm</text><text x="631.5" y="532.8">New Moon | 7:05am</text></g>
</svg>
</body></html>
